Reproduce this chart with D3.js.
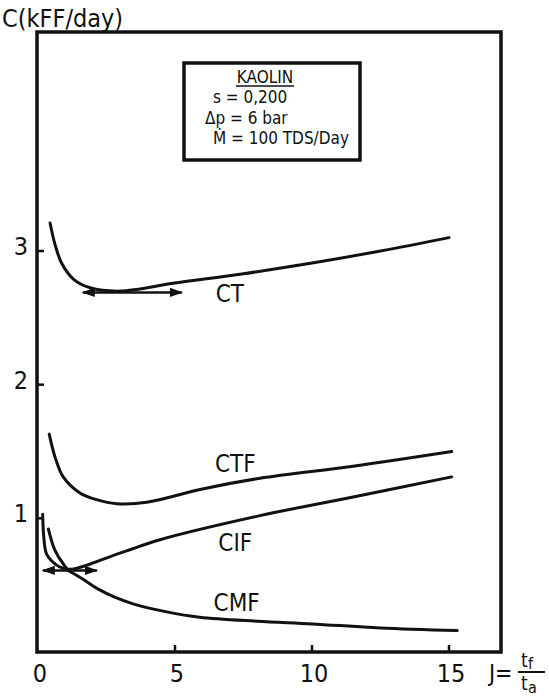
<!DOCTYPE html>
<html>
<head>
<meta charset="utf-8">
<script src="https://cdn.jsdelivr.net/npm/d3@7"></script>
<style>
  body { margin: 0; background: #fff; }
  svg text { font-family: "DejaVu Sans Condensed", "DejaVu Sans", sans-serif; font-stretch: condensed; fill: #111; }
</style>
</head>
<body>
<svg id="chart" width="549" height="698"></svg>
<script>
// values (J = tf/ta, C in kFF/day)
var ctJ  = [0.44, 0.62, 0.86, 1.29, 1.9, 3.0, 5, 7.5, 10, 12.5, 15.0]
var ctC  = [3.21, 3.05, 2.91, 2.79, 2.725, 2.70, 2.76, 2.83, 2.91, 3.00, 3.10]

var ctfJ = [0.41, 0.62, 0.92, 1.53, 2.14, 2.87, 3.97, 6, 8.1, 11.5, 15.1]
var ctfC = [1.63, 1.46, 1.31, 1.19, 1.14, 1.11, 1.12, 1.22, 1.30, 1.39, 1.50]

var cifJ = [0.38, 0.62, 0.92, 1.1, 2.99, 4.45, 8.1, 11.5, 15.1]
var cifC = [0.92, 0.76, 0.66, 0.62, 0.74, 0.84, 1.02, 1.16, 1.31]

var cmfJ = [0.17, 0.22, 0.32, 0.68, 1.1, 1.6, 2.2, 2.8, 3.47, 4.7, 5.9, 8, 10, 12.5, 15.3]
var cmfC = [1.03, 0.84, 0.73, 0.65, 0.61, 0.55, 0.47, 0.41, 0.36, 0.30, 0.26, 0.23, 0.21, 0.18, 0.16]

// optimum ranges marked with double arrows
var arrowCT  = {j0: 1.64, j1: 5.25, c: 2.69}
var arrowCIF = {j0: 0.18, j1: 2.15, c: 0.61}

var xTicks = [0, 5, 10, 15]
var yTicks = [1, 2, 3]

var legendLines = ["s = 0,200", "\u0394p = 6  bar", "\u1E40 = 100 TDS/Day"]

var dimensions = {
  width: 549,
  height: 698,
  left: 37,
  right: 501,
  top: 32,
  bottom: 652
}

var svg = d3.select("#chart")

var x = d3.scaleLinear().domain([0, 15]).range([38, 449])
var y = d3.scaleLinear().domain([0, 3]).range([652, 251])

// frame
svg.append("rect")
  .attr("x", dimensions.left)
  .attr("y", dimensions.top)
  .attr("width", dimensions.right - dimensions.left)
  .attr("height", dimensions.bottom - dimensions.top)
  .attr("fill", "none")
  .attr("stroke", "#111")
  .attr("stroke-width", 3.5)

// ticks (pointing inside)
svg.append("g").selectAll("line")
  .data(xTicks.slice(1))
  .enter().append("line")
    .attr("x1", function(d) { return x(d) })
    .attr("x2", function(d) { return x(d) })
    .attr("y1", dimensions.bottom)
    .attr("y2", dimensions.bottom - 7)
    .attr("stroke", "#111")
    .attr("stroke-width", 2.5)

svg.append("g").selectAll("line")
  .data(yTicks)
  .enter().append("line")
    .attr("x1", dimensions.left)
    .attr("x2", dimensions.left + 7)
    .attr("y1", function(d) { return y(d) })
    .attr("y2", function(d) { return y(d) })
    .attr("stroke", "#111")
    .attr("stroke-width", 2.5)

// tick labels
svg.append("g").selectAll("text")
  .data(xTicks)
  .enter().append("text")
    .text(function(d) { return d })
    .attr("x", function(d) { return x(d) + 2 })
    .attr("y", 682)
    .attr("text-anchor", "middle")
    .style("font-size", "25px")

svg.append("g").selectAll("text")
  .data(yTicks)
  .enter().append("text")
    .text(function(d) { return d })
    .attr("x", 21)
    .attr("y", function(d) { return y(d) + 4 })
    .attr("text-anchor", "middle")
    .style("font-size", "25px")

// axis titles
svg.append("text")
  .text("C(kFF/day)")
  .attr("x", 2)
  .attr("y", 27)
  .style("font-size", "25px")

svg.append("text")
  .text("J=")
  .attr("x", 489)
  .attr("y", 681)
  .style("font-size", "23px")

svg.append("text")
  .text("t")
  .attr("x", 521)
  .attr("y", 667)
  .style("font-size", "19px")
svg.append("text")
  .text("f")
  .attr("x", 528)
  .attr("y", 669)
  .style("font-size", "16px")
svg.append("line")
  .attr("x1", 518).attr("x2", 545)
  .attr("y1", 672).attr("y2", 672)
  .attr("stroke", "#111").attr("stroke-width", 2)
svg.append("text")
  .text("t")
  .attr("x", 521)
  .attr("y", 690)
  .style("font-size", "19px")
svg.append("text")
  .text("a")
  .attr("x", 528)
  .attr("y", 693)
  .style("font-size", "16px")

// curves
var line = d3.line()
  .x(function(d) { return x(d[0]) })
  .y(function(d) { return y(d[1]) })
  .curve(d3.curveCatmullRom.alpha(0.5))

var series = [
  {name: "CT",  j: ctJ,  c: ctC,  lx: 7.0,  ly: 2.68},
  {name: "CTF", j: ctfJ, c: ctfC, lx: 7.2,  ly: 1.41},
  {name: "CIF", j: cifJ, c: cifC, lx: 7.2,  ly: 0.82},
  {name: "CMF", j: cmfJ, c: cmfC, lx: 7.25, ly: 0.37}
]

svg.append("g").selectAll("path")
  .data(series)
  .enter().append("path")
    .attr("d", function(s) { return line(d3.zip(s.j, s.c)) })
    .attr("fill", "none")
    .attr("stroke", "#111")
    .attr("stroke-width", 3)
    .attr("stroke-linecap", "round")

svg.append("g").selectAll("text")
  .data(series)
  .enter().append("text")
    .text(function(s) { return s.name })
    .attr("x", function(s) { return x(s.lx) })
    .attr("y", function(s) { return y(s.ly) })
    .attr("dy", "0.36em")
    .attr("text-anchor", "middle")
    .style("font-size", "24px")

// double arrows
svg.append("defs").append("marker")
  .attr("id", "head")
  .attr("viewBox", "0 0 10 10")
  .attr("refX", 9)
  .attr("refY", 5)
  .attr("markerWidth", 5.5)
  .attr("markerHeight", 5.5)
  .attr("orient", "auto-start-reverse")
  .append("path")
    .attr("d", "M0,1.5 L10,5 L0,8.5 Z")
    .attr("fill", "#111")

svg.append("g").selectAll("line")
  .data([arrowCT, arrowCIF])
  .enter().append("line")
    .attr("x1", function(d) { return x(d.j0) })
    .attr("x2", function(d) { return x(d.j1) })
    .attr("y1", function(d) { return y(d.c) })
    .attr("y2", function(d) { return y(d.c) })
    .attr("stroke", "#111")
    .attr("stroke-width", 2.4)
    .attr("marker-start", "url(#head)")
    .attr("marker-end", "url(#head)")

// legend box
var legend = svg.append("g")
legend.append("rect")
  .attr("x", 184)
  .attr("y", 63)
  .attr("width", 176)
  .attr("height", 97)
  .attr("fill", "#fff")
  .attr("stroke", "#111")
  .attr("stroke-width", 3.5)

legend.append("text")
  .text("KAOLIN")
  .attr("x", 265)
  .attr("y", 83)
  .attr("text-anchor", "middle")
  .style("font-size", "17px")
legend.append("line")
  .attr("x1", 236).attr("x2", 294)
  .attr("y1", 86).attr("y2", 86)
  .attr("stroke", "#111").attr("stroke-width", 1.5)

legend.selectAll("text.row")
  .data(legendLines)
  .enter().append("text")
    .attr("class", "row")
    .text(function(d) { return d })
    .attr("x", function(d, i) { return i == 1 ? 205 : 213 })
    .attr("y", function(d, i) { return 103 + i * 20.5 })
    .style("font-size", "17px")
</script>
</body>
</html>
